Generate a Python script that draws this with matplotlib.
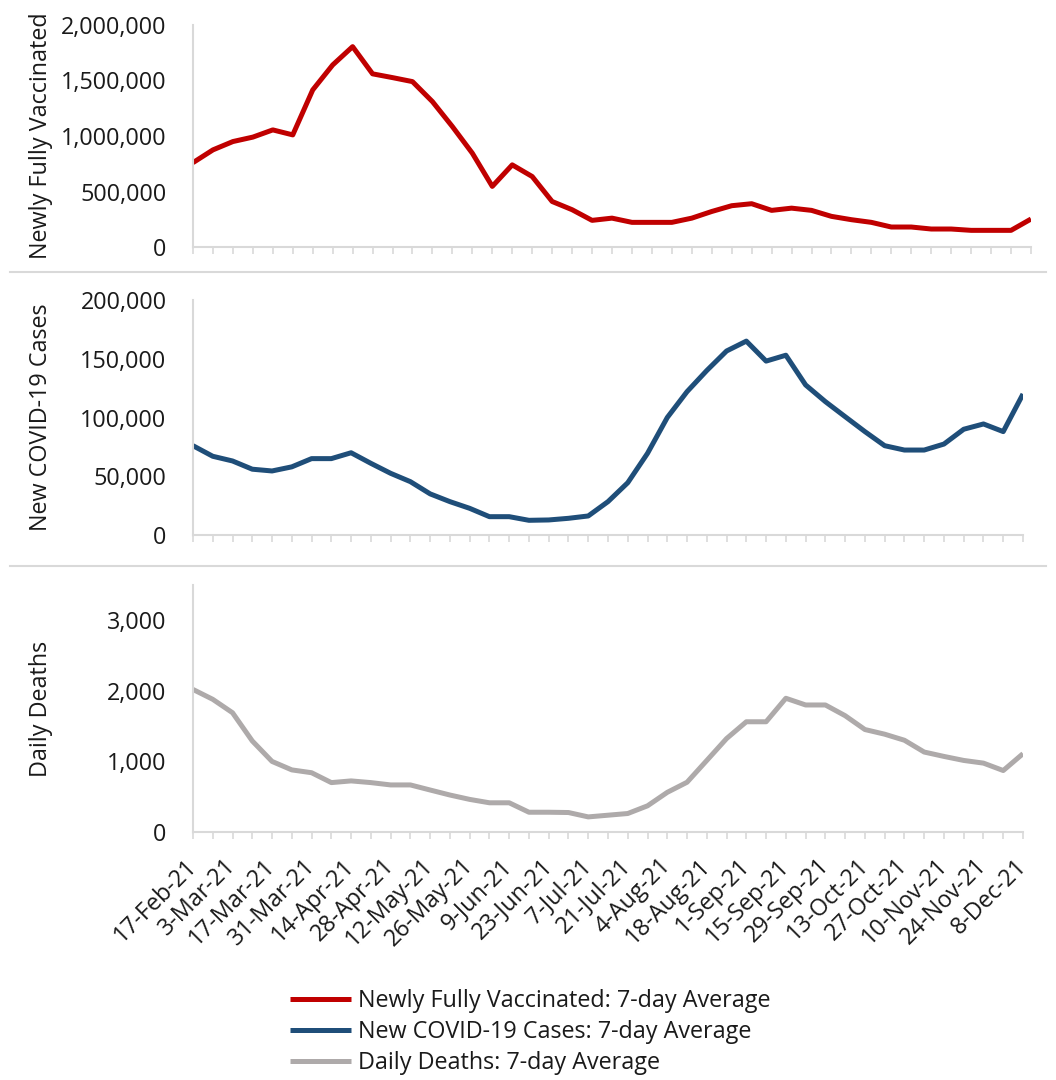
import matplotlib
matplotlib.use("Agg")
import matplotlib.pyplot as plt
from matplotlib.lines import Line2D
from matplotlib.ticker import FuncFormatter, FixedLocator

plt.rcParams['font.family'] = ['Open Sans', 'DejaVu Sans']

# ---- data (weekly, 17-Feb-21 .. 8-Dec-21) ----
date_labels = ["17-Feb-21", "3-Mar-21", "17-Mar-21", "31-Mar-21", "14-Apr-21", "28-Apr-21",
               "12-May-21", "26-May-21", "9-Jun-21", "23-Jun-21", "7-Jul-21", "21-Jul-21",
               "4-Aug-21", "18-Aug-21", "1-Sep-21", "15-Sep-21", "29-Sep-21", "13-Oct-21",
               "27-Oct-21", "10-Nov-21", "24-Nov-21", "8-Dec-21"]

vaccinated = [760000, 875000, 950000, 990000, 1055000, 1010000, 1415000, 1640000, 1805000,
              1560000, 1526000, 1490000, 1310000, 1085000, 845000, 546000, 740000, 635000,
              410000, 336000, 240000, 260000, 222000, 222000, 222000, 260000, 320000, 372000,
              390000, 330000, 350000, 330000, 276000, 246000, 222000, 180000, 180000, 162000,
              162000, 150000, 150000, 150000, 252000]

cases = [76000, 67000, 63000, 56000, 54500, 58000, 65000, 65000, 70000, 61000, 52500, 45400,
         35000, 28400, 22700, 15600, 15600, 12500, 12800, 14200, 16200, 28400, 44500, 69500,
         100000, 122000, 140000, 156600, 165000, 148000, 153000, 127700, 113500, 100700, 88000,
         76000, 72300, 72300, 77400, 90000, 94500, 88000, 120000]

deaths = [2020, 1880, 1690, 1290, 1000, 880, 840, 700, 724, 700, 667, 667, 595, 524, 462, 414,
          414, 280, 280, 276, 214, 238, 262, 371, 562, 705, 1014, 1324, 1562, 1562, 1895, 1800,
          1800, 1648, 1452, 1386, 1300, 1133, 1071, 1014, 976, 871, 1110]

series_names = ["Newly Fully Vaccinated: 7-day Average",
                "New COVID-19 Cases: 7-day Average",
                "Daily Deaths: 7-day Average"]
ylabels = ["Newly Fully Vaccinated", "New COVID-19 Cases", "Daily Deaths"]
colors = ["#C00000", "#1F4E79", "#AEAAAA"]

W, H = 1056, 1080
fig = plt.figure(figsize=(W / 100, H / 100), dpi=100)

def px_axes(left, right, top, bottom):
    return fig.add_axes([left / W, 1 - bottom / H, (right - left) / W, (bottom - top) / H])

axes = [px_axes(193, 1031, 25, 247),
        px_axes(193, 1023, 300, 535),
        px_axes(193, 1023, 585, 832)]

datasets = [vaccinated, cases, deaths]
ylims = [(0, 2000000), (0, 200000), (0, 3500)]
yticks = [[0, 500000, 1000000, 1500000, 2000000],
          [0, 50000, 100000, 150000, 200000],
          [0, 1000, 2000, 3000]]

FS = 16.8
grid_c = "#D9D9D9"
txt_c = "#1a1a1a"
handles = []
n = len(vaccinated)
x = list(range(n))
for i, ax in enumerate(axes):
    ln, = ax.plot(x, datasets[i], color=colors[i], lw=3.6, solid_joinstyle='round',
                  solid_capstyle='butt', label=series_names[i])
    handles.append(ln)
    ax.set_xlim(0, n - 1)
    ax.set_ylim(*ylims[i])
    ax.set_yticks(yticks[i])
    ax.yaxis.set_major_formatter(FuncFormatter(lambda v, p: f"{int(v):,}"))
    ax.tick_params(axis='y', length=0, pad=19, labelsize=FS, labelcolor=txt_c)
    for s in ['top', 'right']:
        ax.spines[s].set_visible(False)
    for s in ['left', 'bottom']:
        ax.spines[s].set_color(grid_c)
        ax.spines[s].set_linewidth(1.5)
    ax.xaxis.set_major_locator(FixedLocator(list(range(0, n, 2))))
    ax.xaxis.set_minor_locator(FixedLocator(list(range(1, n, 2))))
    ax.tick_params(axis='x', which='both', direction='out', length=5, width=1.2, color=grid_c)
    if i < 2:
        ax.set_xticklabels([])
    else:
        ax.set_xticklabels(date_labels, rotation=45, ha='right', va='center',
                           rotation_mode='anchor', fontsize=FS, color=txt_c)
        ax.tick_params(axis='x', which='major', pad=17)
    ax.set_ylabel(ylabels[i], fontsize=FS, color=txt_c)
    bbox = ax.get_position()
    ax.yaxis.set_label_coords((53 - 193) / (bbox.width * W), 0.5)

# separator lines
for yy in [272, 566]:
    fig.add_artist(Line2D([10 / W, 1046 / W], [1 - yy / H, 1 - yy / H],
                          color=grid_c, lw=1.5, transform=fig.transFigure))

leg = fig.legend(handles=handles, labels=series_names, loc='upper center',
                 bbox_to_anchor=(530 / W, 1 - 968 / H), frameon=False, fontsize=FS,
                 handlelength=2.6, handletextpad=0.3, labelspacing=0.3)
for t in leg.get_texts():
    t.set_color(txt_c)

fig.savefig("out.png", dpi=100)
